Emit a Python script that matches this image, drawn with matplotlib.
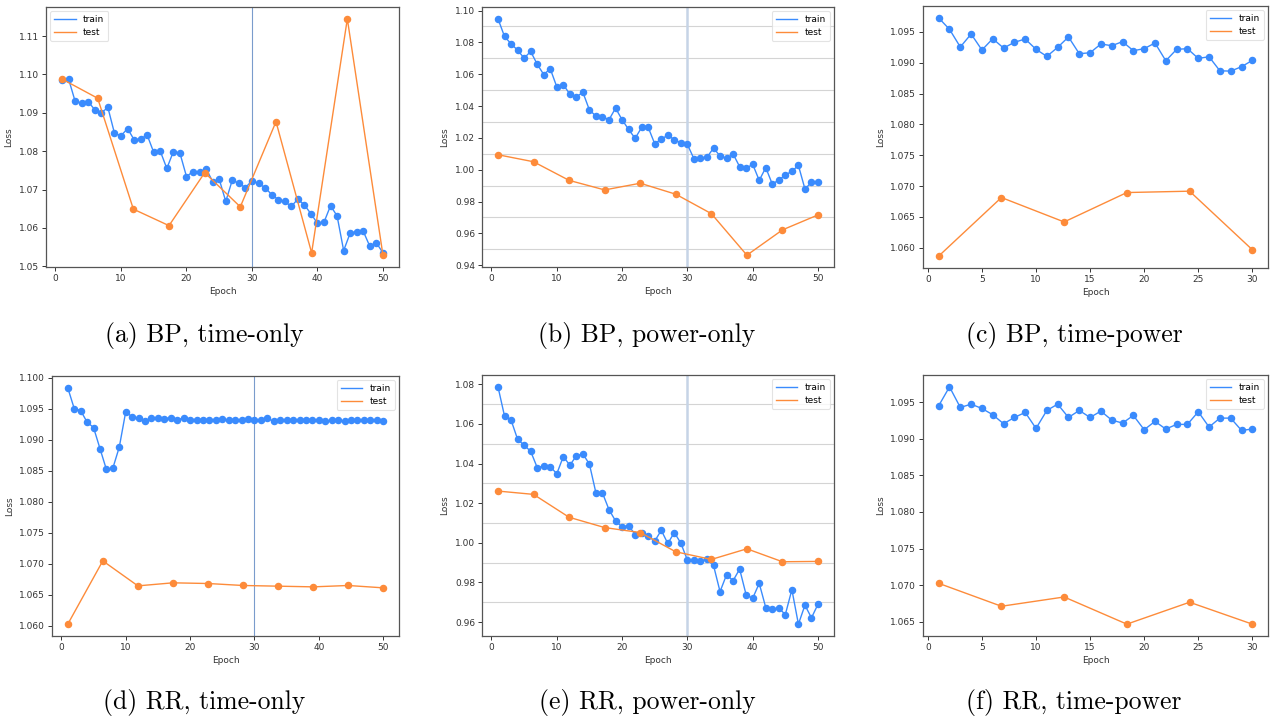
import numpy as np
import matplotlib
matplotlib.use("Agg")
import matplotlib.pyplot as plt
from matplotlib.ticker import MultipleLocator, FormatStrFormatter

# ---------------- data ----------------
epochs50 = list(range(1, 51))
epochs30 = list(range(1, 31))
test_epochs50 = [1, 6.44, 11.89, 17.33, 22.78, 28.22, 33.67, 39.11, 44.56, 50]
test_epochs30 = [1, 6.8, 12.6, 18.4, 24.2, 30]

bp_time_train = [1.0985, 1.0988, 1.0930, 1.0925, 1.0929, 1.0908, 1.0900, 1.0914, 1.0847, 1.0840,
                 1.0859, 1.0830, 1.0832, 1.0842, 1.0797, 1.0800, 1.0755, 1.0799, 1.0795, 1.0734,
                 1.0747, 1.0745, 1.0754, 1.0721, 1.0727, 1.0669, 1.0725, 1.0716, 1.0705, 1.0723,
                 1.0716, 1.0705, 1.0687, 1.0674, 1.0669, 1.0656, 1.0675, 1.0660, 1.0637, 1.0612,
                 1.0615, 1.0658, 1.0631, 1.0541, 1.0587, 1.0590, 1.0591, 1.0552, 1.0561, 1.0535]
bp_time_test = [1.0988, 1.0938, 1.0649, 1.0606, 1.0744, 1.0655, 1.0877, 1.0535, 1.1145, 1.0529]

bp_power_train = [1.0948, 1.0837, 1.0791, 1.0751, 1.0701, 1.0743, 1.0663, 1.0598, 1.0634, 1.0521,
                  1.0534, 1.0475, 1.0458, 1.0486, 1.0375, 1.0337, 1.0333, 1.0314, 1.0387, 1.0314,
                  1.0253, 1.0197, 1.0266, 1.0266, 1.0163, 1.0193, 1.0216, 1.0189, 1.0168, 1.0159,
                  1.0069, 1.0073, 1.0078, 1.0136, 1.0086, 1.0071, 1.0099, 1.0019, 1.0009, 1.0034,
                  0.9933, 1.0013, 0.9910, 0.9935, 0.9967, 0.9990, 1.0027, 0.9879, 0.9921, 0.9921]
bp_power_test = [1.0094, 1.0050, 0.9933, 0.9873, 0.9915, 0.9846, 0.9724, 0.9463, 0.9622, 0.9716]

bp_tp_train = [1.09728, 1.09543, 1.09256, 1.09467, 1.09207, 1.09391, 1.09239, 1.09332, 1.09386, 1.09218,
               1.09104, 1.09250, 1.09419, 1.09147, 1.09163, 1.09305, 1.09277, 1.09343, 1.09196, 1.09229,
               1.09321, 1.09033, 1.09218, 1.09229, 1.09071, 1.09098, 1.08870, 1.08865, 1.08936, 1.09039]
bp_tp_test = [1.05864, 1.06814, 1.06418, 1.06895, 1.06917, 1.05967]

rr_time_train = [1.09839, 1.09505, 1.09473, 1.09285, 1.09199, 1.08860, 1.08522, 1.08543, 1.08882, 1.09452,
                 1.09371, 1.09349, 1.09306, 1.09349, 1.09349, 1.09339, 1.09360, 1.09328, 1.09349, 1.09328,
                 1.09328, 1.09312, 1.09323, 1.09328, 1.09339, 1.09312, 1.09323, 1.09323, 1.09339, 1.09312,
                 1.09312, 1.09349, 1.09296, 1.09328, 1.09312, 1.09323, 1.09323, 1.09312, 1.09323, 1.09312,
                 1.09301, 1.09312, 1.09312, 1.09301, 1.09312, 1.09312, 1.09312, 1.09312, 1.09312, 1.09296]
rr_time_test = [1.06027, 1.07048, 1.06645, 1.06694, 1.06683, 1.06651, 1.06640, 1.06629, 1.06651, 1.06613]

rr_power_train = [1.07866, 1.06393, 1.06192, 1.05222, 1.04921, 1.04619, 1.03799, 1.03866, 1.03849, 1.03481,
                  1.04351, 1.03916, 1.04385, 1.04485, 1.03967, 1.02510, 1.02510, 1.01674, 1.01105, 1.00803,
                  1.00870, 1.00418, 1.00485, 1.00351, 1.00084, 1.00636, 0.99967, 1.00519, 0.99983, 0.99130,
                  0.99130, 0.99096, 0.99163, 0.98862, 0.97540, 0.98393, 0.98092, 0.98678, 0.97372, 0.97205,
                  0.97958, 0.96736, 0.96669, 0.96703, 0.96385, 0.97640, 0.95900, 0.96854, 0.96218, 0.96904]
rr_power_test = [1.02611, 1.02444, 1.01289, 1.00770, 1.00519, 0.99548, 0.99163, 0.99699, 0.99046, 0.99063]

rr_tp_train = [1.09455, 1.09714, 1.09432, 1.09477, 1.09418, 1.09332, 1.09209, 1.09295, 1.09364, 1.09145,
               1.09391, 1.09477, 1.09295, 1.09391, 1.09295, 1.09382, 1.09259, 1.09218, 1.09323, 1.09127,
               1.09241, 1.09136, 1.09200, 1.09200, 1.09373, 1.09164, 1.09286, 1.09286, 1.09118, 1.09136]
rr_tp_test = [1.07023, 1.06709, 1.06836, 1.06464, 1.06764, 1.06464]

captions = ["(a) BP, time-only", "(b) BP, power-only", "(c) BP, time-power",
            "(d) RR, time-only", "(e) RR, power-only", "(f) RR, time-power"]

# ---------------- style ----------------
TRAIN_C = "#3a8bfd"
TEST_C = "#fd8b3a"
W, H = 1277, 724
FS = 6.5

fig = plt.figure(figsize=(W / 100, H / 100), dpi=100)
plt.rcParams["font.family"] = "DejaVu Sans"


def px_axes(l, r, t, b):
    return fig.add_axes([l / W, 1 - b / H, (r - l) / W, (b - t) / H])


panels = [
    dict(box=(46, 399, 7, 267), x=epochs50, tr=bp_time_train, tx=test_epochs50, te=bp_time_test,
         ymaj=0.01, fmt="%.2f", grid=0.01, vline="thin", loc="upper left", xstep=10),
    dict(box=(482, 834, 7, 267), x=epochs50, tr=bp_power_train, tx=test_epochs50, te=bp_power_test,
         ymaj=0.02, fmt="%.2f", grid=0.01, vline="thick", loc="upper right", xstep=10),
    dict(box=(923, 1268, 6, 268), x=epochs30, tr=bp_tp_train, tx=test_epochs30, te=bp_tp_test,
         ymaj=0.005, fmt="%.3f", grid=0.005, vline=None, loc="upper right", xstep=5),
    dict(box=(52, 399, 376, 636), x=epochs50, tr=rr_time_train, tx=test_epochs50, te=rr_time_test,
         ymaj=0.005, fmt="%.3f", grid=0.005, vline="thin", loc="upper right", xstep=10),
    dict(box=(482, 834, 375, 636), x=epochs50, tr=rr_power_train, tx=test_epochs50, te=rr_power_test,
         ymaj=0.02, fmt="%.2f", grid=0.01, vline="thick", loc="upper right", xstep=10),
    dict(box=(923, 1268, 375, 636), x=epochs30, tr=rr_tp_train, tx=test_epochs30, te=rr_tp_test,
         ymaj=0.005, fmt="%.3f", grid=0.01, vline=None, loc="upper right", xstep=5),
]

caption_pos = [(204, 335), (647, 335), (1074, 335), (204, 703), (647, 703), (1074, 703)]

for p, cap, (cx, cy) in zip(panels, captions, caption_pos):
    ax = px_axes(*p["box"])
    ax.plot(p["x"], p["tr"], color=TRAIN_C, lw=1.0, label="train", zorder=3)
    ax.plot(p["x"], p["tr"], "o", color=TRAIN_C, ms=4.4, zorder=3)
    ax.plot(p["tx"], p["te"], color=TEST_C, lw=1.0, label="test", zorder=3)
    ax.plot(p["tx"], p["te"], "o", color=TEST_C, ms=4.4, zorder=3)
    if p["vline"] == "thin":
        ax.axvline(30, color="#7a9ccc", lw=0.8, zorder=2)
    elif p["vline"] == "thick":
        ax.axvline(30, color="#c6d4e6", lw=1.8, zorder=2)

    ax.yaxis.set_major_locator(MultipleLocator(p["ymaj"]))
    ax.yaxis.set_major_formatter(FormatStrFormatter(p["fmt"]))
    ax.xaxis.set_major_locator(MultipleLocator(p["xstep"]))
    # horizontal grid lines
    ax.yaxis.set_minor_locator(MultipleLocator(p["grid"]))
    ax.grid(False)
    ax.yaxis.grid(True, which="minor", color="#d4d4d4", lw=0.8, zorder=0)
    ax.tick_params(axis="y", which="minor", length=0)
    ax.set_axisbelow(True)

    ax.tick_params(axis="both", which="major", labelsize=FS, length=3, width=0.7,
                   colors="#333333", pad=2)
    for s in ax.spines.values():
        s.set_color("#555555")
        s.set_linewidth(0.9)
    ax.set_xlabel("Epoch", fontsize=FS, color="#333333", labelpad=3)
    ax.set_ylabel("Loss", fontsize=FS, color="#333333", labelpad=4)
    leg = ax.legend(loc=p["loc"], fontsize=FS, frameon=True, handlelength=2.4,
                    borderpad=0.45, labelspacing=0.4, borderaxespad=0.45)
    leg.get_frame().set_edgecolor("#dddddd")
    leg.get_frame().set_linewidth(0.8)

    fig.text(cx / W, 1 - cy / H, cap, ha="center", va="center", fontsize=18.5,
             family="cmr10")

fig.savefig("out.png", dpi=100)
